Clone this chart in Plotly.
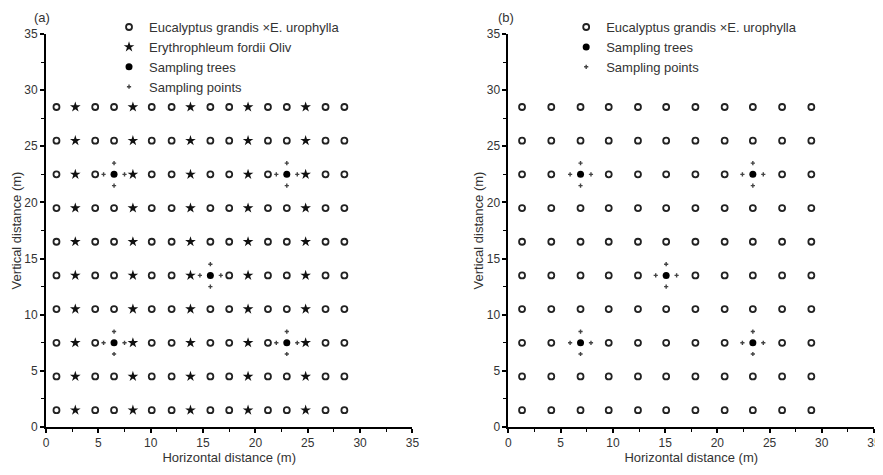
import plotly.graph_objects as go

# ---------------- data ----------------
rows_y = [1.5, 4.5, 7.5, 10.5, 13.5, 16.5, 19.5, 22.5, 25.5, 28.5]

# panel (a)
a_cols_x = [1.0, 2.8, 4.7, 6.5, 8.3, 10.1, 12.0, 13.8, 15.7, 17.5, 19.3, 21.2, 23.0, 24.8, 26.7, 28.5]
a_star_cols_x = [2.8, 8.3, 13.8, 19.3, 24.8]
a_trees_x = [6.5, 23.0, 15.7, 6.5, 23.0]
a_trees_y = [22.5, 22.5, 13.5, 7.5, 7.5]
a_points_x = [5.5, 7.5, 6.5, 6.5, 22.0, 24.0, 23.0, 23.0, 14.7, 16.7, 15.7, 15.7,
              5.5, 7.5, 6.5, 6.5, 22.0, 24.0, 23.0, 23.0]
a_points_y = [22.5, 22.5, 21.5, 23.5, 22.5, 22.5, 21.5, 23.5, 13.5, 13.5, 12.5, 14.5,
              7.5, 7.5, 6.5, 8.5, 7.5, 7.5, 6.5, 8.5]

# panel (b)
b_cols_x = [1.3, 4.1, 6.9, 9.6, 12.4, 15.1, 17.9, 20.7, 23.4, 26.2, 29.0]
b_trees_x = [6.9, 23.4, 15.1, 6.9, 23.4]
b_trees_y = [22.5, 22.5, 13.5, 7.5, 7.5]
b_points_x = [5.9, 7.9, 6.9, 6.9, 22.4, 24.4, 23.4, 23.4, 14.1, 16.1, 15.1, 15.1,
              5.9, 7.9, 6.9, 6.9, 22.4, 24.4, 23.4, 23.4]
b_points_y = [22.5, 22.5, 21.5, 23.5, 22.5, 22.5, 21.5, 23.5, 13.5, 13.5, 12.5, 14.5,
              7.5, 7.5, 6.5, 8.5, 7.5, 7.5, 6.5, 8.5]

tick_vals = [0, 5, 10, 15, 20, 25, 30, 35]

# ---------------- build ----------------
def split_grid(cols, rows, star_cols, tx, ty):
    trees = set(zip(tx, ty))
    ex, ey, sx, sy = [], [], [], []
    for y in rows:
        for x in cols:
            if (x, y) in trees:
                continue
            if x in star_cols:
                sx.append(x); sy.append(y)
            else:
                ex.append(x); ey.append(y)
    return ex, ey, sx, sy

FONT = "Liberation Sans, Arial, sans-serif"
TXT = "#333"
fig = go.Figure()

aex, aey, asx, asy = split_grid(a_cols_x, rows_y, a_star_cols_x, a_trees_x, a_trees_y)
bex, bey, _, _ = split_grid(b_cols_x, rows_y, [], b_trees_x, b_trees_y)

euc_marker = dict(symbol="circle-open", size=6, color="#222", line=dict(width=1.8, color="#222"))
star_marker = dict(symbol="star", size=8, color="#111", line=dict(width=0))
tree_marker = dict(symbol="circle", size=7, color="#000", line=dict(width=0))
pt_marker = dict(symbol="cross", size=3.5, color="#444", line=dict(width=0))

fig.add_trace(go.Scatter(x=aex, y=aey, mode="markers", marker=euc_marker,
                         name="Eucalyptus grandis ×E. urophylla", legend="legend", xaxis="x", yaxis="y"))
fig.add_trace(go.Scatter(x=asx, y=asy, mode="markers", marker=star_marker,
                         name="Erythrophleum fordii Oliv", legend="legend", xaxis="x", yaxis="y"))
fig.add_trace(go.Scatter(x=a_trees_x, y=a_trees_y, mode="markers", marker=tree_marker,
                         name="Sampling trees", legend="legend", xaxis="x", yaxis="y"))
fig.add_trace(go.Scatter(x=a_points_x, y=a_points_y, mode="markers", marker=pt_marker,
                         name="Sampling points", legend="legend", xaxis="x", yaxis="y"))

fig.add_trace(go.Scatter(x=bex, y=bey, mode="markers", marker=euc_marker,
                         name="Eucalyptus grandis ×E. urophylla", legend="legend2", xaxis="x2", yaxis="y2"))
fig.add_trace(go.Scatter(x=b_trees_x, y=b_trees_y, mode="markers", marker=tree_marker,
                         name="Sampling trees", legend="legend2", xaxis="x2", yaxis="y2"))
fig.add_trace(go.Scatter(x=b_points_x, y=b_points_y, mode="markers", marker=pt_marker,
                         name="Sampling points", legend="legend2", xaxis="x2", yaxis="y2"))

def axis(domain, anchor, title, standoff):
    return dict(
        domain=domain, anchor=anchor, range=[0, 35], tickvals=tick_vals,
        automargin=False,
        showline=True, linecolor="#000", linewidth=2, mirror=False,
        ticks="outside", ticklen=4, tickwidth=1.5, tickcolor="#000",
        minor=dict(dtick=2.5, ticks="outside", ticklen=3, tickwidth=1.2, tickcolor="#000"),
        showgrid=False, zeroline=False,
        tickfont=dict(family=FONT, size=12, color=TXT),
        title=dict(text=title, font=dict(family=FONT, size=13, color=TXT), standoff=standoff),
    )

# page body has an 8px margin: figure coords = screen coords - 8
OFF = 8
W, H = 883 - OFF, 475 - OFF
left_s, right_s, top_s, bottom_s = 46, 873.7, 34, 427.5   # plot area on screen
ml, mr = left_s - OFF, W - (right_s - OFF)
mt, mb = top_s - OFF, H - (bottom_s - OFF)
pw = W - ml - mr
ph = H - mt - mb
span = right_s - left_s
da = [0, (412.3 - left_s) / span]
db = [(508.3 - left_s) / span, 1]

def px_x(sx):
    return (sx - left_s) / span

def px_y(sy):
    return 1 + (top_s - sy) / ph

legend_common = dict(
    font=dict(family=FONT, size=13, color=TXT), bgcolor="rgba(0,0,0,0)",
    borderwidth=0, xanchor="left", yanchor="top", tracegroupgap=0, itemwidth=30,
)

fig.update_layout(
    width=W, height=H,
    margin=dict(l=ml, r=mr, t=mt, b=mb, autoexpand=False),
    paper_bgcolor="white", plot_bgcolor="white",
    xaxis=axis(da, "y", "Horizontal distance (m)", 2),
    yaxis=axis([0, 1], "x", "Vertical distance (m)", 0),
    xaxis2=axis(db, "y2", "Horizontal distance (m)", 2),
    yaxis2=axis([0, 1], "x2", "Vertical distance (m)", 0),
    legend=dict(x=px_x(109), y=px_y(12), **legend_common),
    legend2=dict(x=px_x(566), y=px_y(12), **legend_common),
    annotations=[
        dict(text="(a)", xref="paper", yref="paper", x=px_x(42), y=px_y(17),
             xanchor="center", yanchor="middle",
             showarrow=False, font=dict(family=FONT, size=13, color=TXT)),
        dict(text="(b)", xref="paper", yref="paper", x=px_x(506), y=px_y(17),
             xanchor="center", yanchor="middle",
             showarrow=False, font=dict(family=FONT, size=13, color=TXT)),
    ],
)

fig.write_html("out.html")
